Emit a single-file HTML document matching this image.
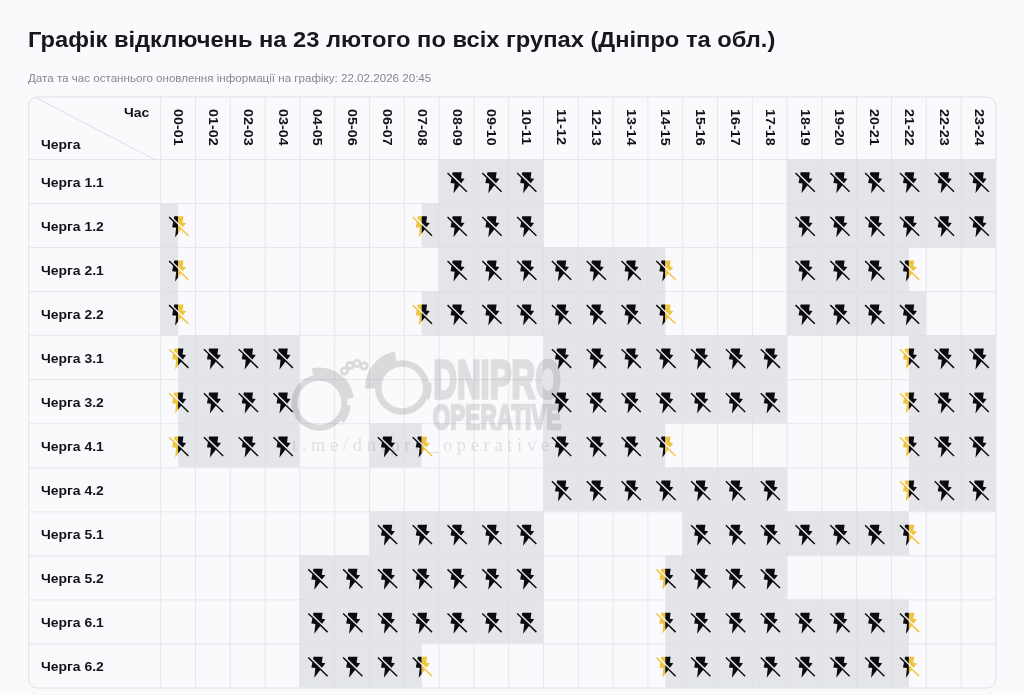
<!DOCTYPE html>
<html lang="uk"><head><meta charset="utf-8"><title>Графік відключень</title>
<style>
html,body{margin:0;padding:0}
body{width:1024px;height:695px;overflow:hidden;background:#fafafc;font-family:"Liberation Sans",sans-serif;color:#111318;position:relative}
h1{position:absolute;left:28.1px;top:26.1px;margin:0;font-size:21.6px;line-height:28px;font-weight:700;white-space:nowrap;color:#16181d;transform:scaleX(1.0972);transform-origin:0 0}
.sub{position:absolute;left:28px;top:71px;font-size:11.6px;line-height:14px;color:#85888f;white-space:nowrap}
.ov{position:absolute;left:0;top:0;width:1024px;height:695px;pointer-events:none}
.t{position:absolute;font-weight:700;white-space:nowrap}
.rl,.ch{font-size:13.5px;transform:scaleX(1.032);transform-origin:0 50%;line-height:16px}
.rl{left:41.2px}
.hd{font-size:13.6px;transform:scaleY(1.052);transform-origin:50% 50%;writing-mode:vertical-rl;line-height:34.80px;width:34.80px;height:61px;text-align:center;top:97px}
</style></head><body>
<h1>Графік відключень на 23 лютого по всіх групах (Дніпро та обл.)</h1>
<div class="sub">Дата та час останнього оновлення інформації на графіку: 22.02.2026 20:45</div>
<svg class="ov" width="1024" height="695" viewBox="0 0 1024 695">
<rect x="28.75" y="97.0" width="967.15" height="590.98" rx="8.5" fill="#fafafc"/>
<path d="M160.70,97.0V687.98M195.50,97.0V687.98M230.30,97.0V687.98M265.10,97.0V687.98M299.90,97.0V687.98M334.70,97.0V687.98M369.50,97.0V687.98M404.30,97.0V687.98M439.10,97.0V687.98M473.90,97.0V687.98M508.70,97.0V687.98M543.50,97.0V687.98M578.30,97.0V687.98M613.10,97.0V687.98M647.90,97.0V687.98M682.70,97.0V687.98M717.50,97.0V687.98M752.30,97.0V687.98M787.10,97.0V687.98M821.90,97.0V687.98M856.70,97.0V687.98M891.50,97.0V687.98M926.30,97.0V687.98M961.10,97.0V687.98M28.75,159.50H995.90M28.75,203.54H995.90M28.75,247.58H995.90M28.75,291.62H995.90M28.75,335.66H995.90M28.75,379.70H995.90M28.75,423.74H995.90M28.75,467.78H995.90M28.75,511.82H995.90M28.75,555.86H995.90M28.75,599.90H995.90M28.75,643.94H995.90" stroke="#e6e7eb" stroke-width="1" fill="none"/>
<path d="M35.5,97.5L155.5,160" stroke="#dcdfe3" stroke-width="1" fill="none"/>
<path d="M438.60,159.00H473.45V203.09H438.60zM473.40,159.00H508.25V203.09H473.40zM508.20,159.00H543.05V203.09H508.20zM786.60,159.00H821.45V203.09H786.60zM821.40,159.00H856.25V203.09H821.40zM856.20,159.00H891.05V203.09H856.20zM891.00,159.00H925.85V203.09H891.00zM925.80,159.00H960.65V203.09H925.80zM960.60,159.00H995.45V203.09H960.60zM160.20,203.04H178.15V247.13H160.20zM421.70,203.04H438.65V247.13H421.70zM438.60,203.04H473.45V247.13H438.60zM473.40,203.04H508.25V247.13H473.40zM508.20,203.04H543.05V247.13H508.20zM786.60,203.04H821.45V247.13H786.60zM821.40,203.04H856.25V247.13H821.40zM856.20,203.04H891.05V247.13H856.20zM891.00,203.04H925.85V247.13H891.00zM925.80,203.04H960.65V247.13H925.80zM960.60,203.04H995.45V247.13H960.60zM160.20,247.08H178.15V291.17H160.20zM438.60,247.08H473.45V291.17H438.60zM473.40,247.08H508.25V291.17H473.40zM508.20,247.08H543.05V291.17H508.20zM543.00,247.08H577.85V291.17H543.00zM577.80,247.08H612.65V291.17H577.80zM612.60,247.08H647.45V291.17H612.60zM647.40,247.08H665.35V291.17H647.40zM786.60,247.08H821.45V291.17H786.60zM821.40,247.08H856.25V291.17H821.40zM856.20,247.08H891.05V291.17H856.20zM891.00,247.08H908.95V291.17H891.00zM160.20,291.12H178.15V335.21H160.20zM421.70,291.12H438.65V335.21H421.70zM438.60,291.12H473.45V335.21H438.60zM473.40,291.12H508.25V335.21H473.40zM508.20,291.12H543.05V335.21H508.20zM543.00,291.12H577.85V335.21H543.00zM577.80,291.12H612.65V335.21H577.80zM612.60,291.12H647.45V335.21H612.60zM647.40,291.12H665.35V335.21H647.40zM786.60,291.12H821.45V335.21H786.60zM821.40,291.12H856.25V335.21H821.40zM856.20,291.12H891.05V335.21H856.20zM891.00,291.12H925.85V335.21H891.00zM178.10,335.16H195.05V379.25H178.10zM195.00,335.16H229.85V379.25H195.00zM229.80,335.16H264.65V379.25H229.80zM264.60,335.16H299.45V379.25H264.60zM543.00,335.16H577.85V379.25H543.00zM577.80,335.16H612.65V379.25H577.80zM612.60,335.16H647.45V379.25H612.60zM647.40,335.16H682.25V379.25H647.40zM682.20,335.16H717.05V379.25H682.20zM717.00,335.16H751.85V379.25H717.00zM751.80,335.16H786.65V379.25H751.80zM908.90,335.16H925.85V379.25H908.90zM925.80,335.16H960.65V379.25H925.80zM960.60,335.16H995.45V379.25H960.60zM178.10,379.20H195.05V423.29H178.10zM195.00,379.20H229.85V423.29H195.00zM229.80,379.20H264.65V423.29H229.80zM264.60,379.20H299.45V423.29H264.60zM543.00,379.20H577.85V423.29H543.00zM577.80,379.20H612.65V423.29H577.80zM612.60,379.20H647.45V423.29H612.60zM647.40,379.20H682.25V423.29H647.40zM682.20,379.20H717.05V423.29H682.20zM717.00,379.20H751.85V423.29H717.00zM751.80,379.20H786.65V423.29H751.80zM908.90,379.20H925.85V423.29H908.90zM925.80,379.20H960.65V423.29H925.80zM960.60,379.20H995.45V423.29H960.60zM178.10,423.24H195.05V467.33H178.10zM195.00,423.24H229.85V467.33H195.00zM229.80,423.24H264.65V467.33H229.80zM264.60,423.24H299.45V467.33H264.60zM369.00,423.24H403.85V467.33H369.00zM403.80,423.24H421.75V467.33H403.80zM543.00,423.24H577.85V467.33H543.00zM577.80,423.24H612.65V467.33H577.80zM612.60,423.24H647.45V467.33H612.60zM647.40,423.24H665.35V467.33H647.40zM908.90,423.24H925.85V467.33H908.90zM925.80,423.24H960.65V467.33H925.80zM960.60,423.24H995.45V467.33H960.60zM543.00,467.28H577.85V511.37H543.00zM577.80,467.28H612.65V511.37H577.80zM612.60,467.28H647.45V511.37H612.60zM647.40,467.28H682.25V511.37H647.40zM682.20,467.28H717.05V511.37H682.20zM717.00,467.28H751.85V511.37H717.00zM751.80,467.28H786.65V511.37H751.80zM908.90,467.28H925.85V511.37H908.90zM925.80,467.28H960.65V511.37H925.80zM960.60,467.28H995.45V511.37H960.60zM369.00,511.32H403.85V555.41H369.00zM403.80,511.32H438.65V555.41H403.80zM438.60,511.32H473.45V555.41H438.60zM473.40,511.32H508.25V555.41H473.40zM508.20,511.32H543.05V555.41H508.20zM682.20,511.32H717.05V555.41H682.20zM717.00,511.32H751.85V555.41H717.00zM751.80,511.32H786.65V555.41H751.80zM786.60,511.32H821.45V555.41H786.60zM821.40,511.32H856.25V555.41H821.40zM856.20,511.32H891.05V555.41H856.20zM891.00,511.32H908.95V555.41H891.00zM299.40,555.36H334.25V599.45H299.40zM334.20,555.36H369.05V599.45H334.20zM369.00,555.36H403.85V599.45H369.00zM403.80,555.36H438.65V599.45H403.80zM438.60,555.36H473.45V599.45H438.60zM473.40,555.36H508.25V599.45H473.40zM508.20,555.36H543.05V599.45H508.20zM665.30,555.36H682.25V599.45H665.30zM682.20,555.36H717.05V599.45H682.20zM717.00,555.36H751.85V599.45H717.00zM751.80,555.36H786.65V599.45H751.80zM299.40,599.40H334.25V643.49H299.40zM334.20,599.40H369.05V643.49H334.20zM369.00,599.40H403.85V643.49H369.00zM403.80,599.40H438.65V643.49H403.80zM438.60,599.40H473.45V643.49H438.60zM473.40,599.40H508.25V643.49H473.40zM508.20,599.40H543.05V643.49H508.20zM665.30,599.40H682.25V643.49H665.30zM682.20,599.40H717.05V643.49H682.20zM717.00,599.40H751.85V643.49H717.00zM751.80,599.40H786.65V643.49H751.80zM786.60,599.40H821.45V643.49H786.60zM821.40,599.40H856.25V643.49H821.40zM856.20,599.40H891.05V643.49H856.20zM891.00,599.40H908.95V643.49H891.00zM299.40,643.44H334.25V687.53H299.40zM334.20,643.44H369.05V687.53H334.20zM369.00,643.44H403.85V687.53H369.00zM403.80,643.44H421.75V687.53H403.80zM665.30,643.44H682.25V687.53H665.30zM682.20,643.44H717.05V687.53H682.20zM717.00,643.44H751.85V687.53H717.00zM751.80,643.44H786.65V687.53H751.80zM786.60,643.44H821.45V687.53H786.60zM821.40,643.44H856.25V687.53H821.40zM856.20,643.44H891.05V687.53H856.20zM891.00,643.44H908.95V687.53H891.00z" fill="#e4e5e9"/>
<path d="M473.90,159.50V203.54M508.70,159.50V203.54M821.90,159.50V203.54M856.70,159.50V203.54M891.50,159.50V203.54M926.30,159.50V203.54M961.10,159.50V203.54M439.10,203.54V247.58M439.10,203.54H473.90M473.90,203.54V247.58M473.90,203.54H508.70M508.70,203.54V247.58M508.70,203.54H543.50M787.10,203.54H821.90M821.90,203.54V247.58M821.90,203.54H856.70M856.70,203.54V247.58M856.70,203.54H891.50M891.50,203.54V247.58M891.50,203.54H926.30M926.30,203.54V247.58M926.30,203.54H961.10M961.10,203.54V247.58M961.10,203.54H995.90M160.70,247.58H178.10M439.10,247.58H473.90M473.90,247.58V291.62M473.90,247.58H508.70M508.70,247.58V291.62M508.70,247.58H543.50M543.50,247.58V291.62M578.30,247.58V291.62M613.10,247.58V291.62M647.90,247.58V291.62M787.10,247.58H821.90M821.90,247.58V291.62M821.90,247.58H856.70M856.70,247.58V291.62M856.70,247.58H891.50M891.50,247.58V291.62M891.50,247.58H908.90M160.70,291.62H178.10M439.10,291.62V335.66M439.10,291.62H473.90M473.90,291.62V335.66M473.90,291.62H508.70M508.70,291.62V335.66M508.70,291.62H543.50M543.50,291.62V335.66M543.50,291.62H578.30M578.30,291.62V335.66M578.30,291.62H613.10M613.10,291.62V335.66M613.10,291.62H647.90M647.90,291.62V335.66M647.90,291.62H665.30M787.10,291.62H821.90M821.90,291.62V335.66M821.90,291.62H856.70M856.70,291.62V335.66M856.70,291.62H891.50M891.50,291.62V335.66M891.50,291.62H908.90M195.50,335.66V379.70M230.30,335.66V379.70M265.10,335.66V379.70M543.50,335.66H578.30M578.30,335.66V379.70M578.30,335.66H613.10M613.10,335.66V379.70M613.10,335.66H647.90M647.90,335.66V379.70M647.90,335.66H665.30M682.70,335.66V379.70M717.50,335.66V379.70M752.30,335.66V379.70M908.90,335.66H926.30M926.30,335.66V379.70M961.10,335.66V379.70M178.10,379.70H195.50M195.50,379.70V423.74M195.50,379.70H230.30M230.30,379.70V423.74M230.30,379.70H265.10M265.10,379.70V423.74M265.10,379.70H299.90M543.50,379.70H578.30M578.30,379.70V423.74M578.30,379.70H613.10M613.10,379.70V423.74M613.10,379.70H647.90M647.90,379.70V423.74M647.90,379.70H682.70M682.70,379.70V423.74M682.70,379.70H717.50M717.50,379.70V423.74M717.50,379.70H752.30M752.30,379.70V423.74M752.30,379.70H787.10M908.90,379.70H926.30M926.30,379.70V423.74M926.30,379.70H961.10M961.10,379.70V423.74M961.10,379.70H995.90M178.10,423.74H195.50M195.50,423.74V467.78M195.50,423.74H230.30M230.30,423.74V467.78M230.30,423.74H265.10M265.10,423.74V467.78M265.10,423.74H299.90M404.30,423.74V467.78M543.50,423.74H578.30M578.30,423.74V467.78M578.30,423.74H613.10M613.10,423.74V467.78M613.10,423.74H647.90M647.90,423.74V467.78M647.90,423.74H665.30M908.90,423.74H926.30M926.30,423.74V467.78M926.30,423.74H961.10M961.10,423.74V467.78M961.10,423.74H995.90M543.50,467.78H578.30M578.30,467.78V511.82M578.30,467.78H613.10M613.10,467.78V511.82M613.10,467.78H647.90M647.90,467.78V511.82M647.90,467.78H665.30M682.70,467.78V511.82M717.50,467.78V511.82M752.30,467.78V511.82M908.90,467.78H926.30M926.30,467.78V511.82M926.30,467.78H961.10M961.10,467.78V511.82M961.10,467.78H995.90M404.30,511.82V555.86M439.10,511.82V555.86M473.90,511.82V555.86M508.70,511.82V555.86M682.70,511.82H717.50M717.50,511.82V555.86M717.50,511.82H752.30M752.30,511.82V555.86M752.30,511.82H787.10M787.10,511.82V555.86M821.90,511.82V555.86M856.70,511.82V555.86M891.50,511.82V555.86M334.70,555.86V599.90M369.50,555.86V599.90M369.50,555.86H404.30M404.30,555.86V599.90M404.30,555.86H439.10M439.10,555.86V599.90M439.10,555.86H473.90M473.90,555.86V599.90M473.90,555.86H508.70M508.70,555.86V599.90M508.70,555.86H543.50M682.70,555.86V599.90M682.70,555.86H717.50M717.50,555.86V599.90M717.50,555.86H752.30M752.30,555.86V599.90M752.30,555.86H787.10M299.90,599.90H334.70M334.70,599.90V643.94M334.70,599.90H369.50M369.50,599.90V643.94M369.50,599.90H404.30M404.30,599.90V643.94M404.30,599.90H439.10M439.10,599.90V643.94M439.10,599.90H473.90M473.90,599.90V643.94M473.90,599.90H508.70M508.70,599.90V643.94M508.70,599.90H543.50M665.30,599.90H682.70M682.70,599.90V643.94M682.70,599.90H717.50M717.50,599.90V643.94M717.50,599.90H752.30M752.30,599.90V643.94M752.30,599.90H787.10M787.10,599.90V643.94M821.90,599.90V643.94M856.70,599.90V643.94M891.50,599.90V643.94M299.90,643.94H334.70M334.70,643.94V687.98M334.70,643.94H369.50M369.50,643.94V687.98M369.50,643.94H404.30M404.30,643.94V687.98M404.30,643.94H421.70M665.30,643.94H682.70M682.70,643.94V687.98M682.70,643.94H717.50M717.50,643.94V687.98M717.50,643.94H752.30M752.30,643.94V687.98M752.30,643.94H787.10M787.10,643.94V687.98M787.10,643.94H821.90M821.90,643.94V687.98M821.90,643.94H856.70M856.70,643.94V687.98M856.70,643.94H891.50M891.50,643.94V687.98M891.50,643.94H908.90" stroke="#dfe0e5" stroke-width="1" fill="none"/>
<rect x="28.75" y="97.0" width="967.15" height="590.98" rx="8.5" fill="none" stroke="#dee0e4" stroke-width="1"/>
<g fill="#0b0b0d"><path transform="translate(456.60 181.52)" d="M4.59,1.74 7.97,-2.65 4.38,-3.17 5.23,-9.20 -3.97,-9.20 -4.39,-6.97zM3.23,2.44 -4.72,-5.27 -4.72,-5.27 -8.60,-9.02 -9.60,-7.98 -5.05,-3.57 -6.04,1.57 -2.02,2.07 -3.13,11.79 2.82,4.05 9.70,10.72 10.70,9.68z"/>
<path transform="translate(491.40 181.52)" d="M4.59,1.74 7.97,-2.65 4.38,-3.17 5.23,-9.20 -3.97,-9.20 -4.39,-6.97zM3.23,2.44 -4.72,-5.27 -4.72,-5.27 -8.60,-9.02 -9.60,-7.98 -5.05,-3.57 -6.04,1.57 -2.02,2.07 -3.13,11.79 2.82,4.05 9.70,10.72 10.70,9.68z"/>
<path transform="translate(526.20 181.52)" d="M4.59,1.74 7.97,-2.65 4.38,-3.17 5.23,-9.20 -3.97,-9.20 -4.39,-6.97zM3.23,2.44 -4.72,-5.27 -4.72,-5.27 -8.60,-9.02 -9.60,-7.98 -5.05,-3.57 -6.04,1.57 -2.02,2.07 -3.13,11.79 2.82,4.05 9.70,10.72 10.70,9.68z"/>
<path transform="translate(804.60 181.52)" d="M4.59,1.74 7.97,-2.65 4.38,-3.17 5.23,-9.20 -3.97,-9.20 -4.39,-6.97zM3.23,2.44 -4.72,-5.27 -4.72,-5.27 -8.60,-9.02 -9.60,-7.98 -5.05,-3.57 -6.04,1.57 -2.02,2.07 -3.13,11.79 2.82,4.05 9.70,10.72 10.70,9.68z"/>
<path transform="translate(839.40 181.52)" d="M4.59,1.74 7.97,-2.65 4.38,-3.17 5.23,-9.20 -3.97,-9.20 -4.39,-6.97zM3.23,2.44 -4.72,-5.27 -4.72,-5.27 -8.60,-9.02 -9.60,-7.98 -5.05,-3.57 -6.04,1.57 -2.02,2.07 -3.13,11.79 2.82,4.05 9.70,10.72 10.70,9.68z"/>
<path transform="translate(874.20 181.52)" d="M4.59,1.74 7.97,-2.65 4.38,-3.17 5.23,-9.20 -3.97,-9.20 -4.39,-6.97zM3.23,2.44 -4.72,-5.27 -4.72,-5.27 -8.60,-9.02 -9.60,-7.98 -5.05,-3.57 -6.04,1.57 -2.02,2.07 -3.13,11.79 2.82,4.05 9.70,10.72 10.70,9.68z"/>
<path transform="translate(909.00 181.52)" d="M4.59,1.74 7.97,-2.65 4.38,-3.17 5.23,-9.20 -3.97,-9.20 -4.39,-6.97zM3.23,2.44 -4.72,-5.27 -4.72,-5.27 -8.60,-9.02 -9.60,-7.98 -5.05,-3.57 -6.04,1.57 -2.02,2.07 -3.13,11.79 2.82,4.05 9.70,10.72 10.70,9.68z"/>
<path transform="translate(943.80 181.52)" d="M4.59,1.74 7.97,-2.65 4.38,-3.17 5.23,-9.20 -3.97,-9.20 -4.39,-6.97zM3.23,2.44 -4.72,-5.27 -4.72,-5.27 -8.60,-9.02 -9.60,-7.98 -5.05,-3.57 -6.04,1.57 -2.02,2.07 -3.13,11.79 2.82,4.05 9.70,10.72 10.70,9.68z"/>
<path transform="translate(978.60 181.52)" d="M4.59,1.74 7.97,-2.65 4.38,-3.17 5.23,-9.20 -3.97,-9.20 -4.39,-6.97zM3.23,2.44 -4.72,-5.27 -4.72,-5.27 -8.60,-9.02 -9.60,-7.98 -5.05,-3.57 -6.04,1.57 -2.02,2.07 -3.13,11.79 2.82,4.05 9.70,10.72 10.70,9.68z"/>
<path transform="translate(178.20 225.56)" d="M-3.97,-9.20 -4.39,-6.97 -0.10,-2.81 -0.10,-9.20zM-4.72,-5.27 -4.72,-5.27 -8.60,-9.02 -9.60,-7.98 -5.05,-3.57 -6.04,1.57 -2.02,2.07 -3.13,11.79 -0.10,7.85 -0.10,-0.79z"/><path transform="translate(178.20 225.56)" fill="#f0c53e" d="M7.97,-2.65 4.38,-3.17 5.23,-9.20 -0.10,-9.20 -0.10,-2.81 4.59,1.74zM-0.10,-0.79 -0.10,7.85 2.82,4.05 9.70,10.72 10.70,9.68 3.23,2.44z"/>
<path transform="translate(421.80 225.56)" fill="#f0c53e" d="M-3.97,-9.20 -4.39,-6.97 -0.10,-2.81 -0.10,-9.20zM-4.72,-5.27 -4.72,-5.27 -8.60,-9.02 -9.60,-7.98 -5.05,-3.57 -6.04,1.57 -2.02,2.07 -3.13,11.79 -0.10,7.85 -0.10,-0.79z"/><path transform="translate(421.80 225.56)" d="M7.97,-2.65 4.38,-3.17 5.23,-9.20 -0.10,-9.20 -0.10,-2.81 4.59,1.74zM-0.10,-0.79 -0.10,7.85 2.82,4.05 9.70,10.72 10.70,9.68 3.23,2.44z"/>
<path transform="translate(456.60 225.56)" d="M4.59,1.74 7.97,-2.65 4.38,-3.17 5.23,-9.20 -3.97,-9.20 -4.39,-6.97zM3.23,2.44 -4.72,-5.27 -4.72,-5.27 -8.60,-9.02 -9.60,-7.98 -5.05,-3.57 -6.04,1.57 -2.02,2.07 -3.13,11.79 2.82,4.05 9.70,10.72 10.70,9.68z"/>
<path transform="translate(491.40 225.56)" d="M4.59,1.74 7.97,-2.65 4.38,-3.17 5.23,-9.20 -3.97,-9.20 -4.39,-6.97zM3.23,2.44 -4.72,-5.27 -4.72,-5.27 -8.60,-9.02 -9.60,-7.98 -5.05,-3.57 -6.04,1.57 -2.02,2.07 -3.13,11.79 2.82,4.05 9.70,10.72 10.70,9.68z"/>
<path transform="translate(526.20 225.56)" d="M4.59,1.74 7.97,-2.65 4.38,-3.17 5.23,-9.20 -3.97,-9.20 -4.39,-6.97zM3.23,2.44 -4.72,-5.27 -4.72,-5.27 -8.60,-9.02 -9.60,-7.98 -5.05,-3.57 -6.04,1.57 -2.02,2.07 -3.13,11.79 2.82,4.05 9.70,10.72 10.70,9.68z"/>
<path transform="translate(804.60 225.56)" d="M4.59,1.74 7.97,-2.65 4.38,-3.17 5.23,-9.20 -3.97,-9.20 -4.39,-6.97zM3.23,2.44 -4.72,-5.27 -4.72,-5.27 -8.60,-9.02 -9.60,-7.98 -5.05,-3.57 -6.04,1.57 -2.02,2.07 -3.13,11.79 2.82,4.05 9.70,10.72 10.70,9.68z"/>
<path transform="translate(839.40 225.56)" d="M4.59,1.74 7.97,-2.65 4.38,-3.17 5.23,-9.20 -3.97,-9.20 -4.39,-6.97zM3.23,2.44 -4.72,-5.27 -4.72,-5.27 -8.60,-9.02 -9.60,-7.98 -5.05,-3.57 -6.04,1.57 -2.02,2.07 -3.13,11.79 2.82,4.05 9.70,10.72 10.70,9.68z"/>
<path transform="translate(874.20 225.56)" d="M4.59,1.74 7.97,-2.65 4.38,-3.17 5.23,-9.20 -3.97,-9.20 -4.39,-6.97zM3.23,2.44 -4.72,-5.27 -4.72,-5.27 -8.60,-9.02 -9.60,-7.98 -5.05,-3.57 -6.04,1.57 -2.02,2.07 -3.13,11.79 2.82,4.05 9.70,10.72 10.70,9.68z"/>
<path transform="translate(909.00 225.56)" d="M4.59,1.74 7.97,-2.65 4.38,-3.17 5.23,-9.20 -3.97,-9.20 -4.39,-6.97zM3.23,2.44 -4.72,-5.27 -4.72,-5.27 -8.60,-9.02 -9.60,-7.98 -5.05,-3.57 -6.04,1.57 -2.02,2.07 -3.13,11.79 2.82,4.05 9.70,10.72 10.70,9.68z"/>
<path transform="translate(943.80 225.56)" d="M4.59,1.74 7.97,-2.65 4.38,-3.17 5.23,-9.20 -3.97,-9.20 -4.39,-6.97zM3.23,2.44 -4.72,-5.27 -4.72,-5.27 -8.60,-9.02 -9.60,-7.98 -5.05,-3.57 -6.04,1.57 -2.02,2.07 -3.13,11.79 2.82,4.05 9.70,10.72 10.70,9.68z"/>
<path transform="translate(978.60 225.56)" d="M4.59,1.74 7.97,-2.65 4.38,-3.17 5.23,-9.20 -3.97,-9.20 -4.39,-6.97zM3.23,2.44 -4.72,-5.27 -4.72,-5.27 -8.60,-9.02 -9.60,-7.98 -5.05,-3.57 -6.04,1.57 -2.02,2.07 -3.13,11.79 2.82,4.05 9.70,10.72 10.70,9.68z"/>
<path transform="translate(178.20 269.60)" d="M-3.97,-9.20 -4.39,-6.97 -0.10,-2.81 -0.10,-9.20zM-4.72,-5.27 -4.72,-5.27 -8.60,-9.02 -9.60,-7.98 -5.05,-3.57 -6.04,1.57 -2.02,2.07 -3.13,11.79 -0.10,7.85 -0.10,-0.79z"/><path transform="translate(178.20 269.60)" fill="#f0c53e" d="M7.97,-2.65 4.38,-3.17 5.23,-9.20 -0.10,-9.20 -0.10,-2.81 4.59,1.74zM-0.10,-0.79 -0.10,7.85 2.82,4.05 9.70,10.72 10.70,9.68 3.23,2.44z"/>
<path transform="translate(456.60 269.60)" d="M4.59,1.74 7.97,-2.65 4.38,-3.17 5.23,-9.20 -3.97,-9.20 -4.39,-6.97zM3.23,2.44 -4.72,-5.27 -4.72,-5.27 -8.60,-9.02 -9.60,-7.98 -5.05,-3.57 -6.04,1.57 -2.02,2.07 -3.13,11.79 2.82,4.05 9.70,10.72 10.70,9.68z"/>
<path transform="translate(491.40 269.60)" d="M4.59,1.74 7.97,-2.65 4.38,-3.17 5.23,-9.20 -3.97,-9.20 -4.39,-6.97zM3.23,2.44 -4.72,-5.27 -4.72,-5.27 -8.60,-9.02 -9.60,-7.98 -5.05,-3.57 -6.04,1.57 -2.02,2.07 -3.13,11.79 2.82,4.05 9.70,10.72 10.70,9.68z"/>
<path transform="translate(526.20 269.60)" d="M4.59,1.74 7.97,-2.65 4.38,-3.17 5.23,-9.20 -3.97,-9.20 -4.39,-6.97zM3.23,2.44 -4.72,-5.27 -4.72,-5.27 -8.60,-9.02 -9.60,-7.98 -5.05,-3.57 -6.04,1.57 -2.02,2.07 -3.13,11.79 2.82,4.05 9.70,10.72 10.70,9.68z"/>
<path transform="translate(561.00 269.60)" d="M4.59,1.74 7.97,-2.65 4.38,-3.17 5.23,-9.20 -3.97,-9.20 -4.39,-6.97zM3.23,2.44 -4.72,-5.27 -4.72,-5.27 -8.60,-9.02 -9.60,-7.98 -5.05,-3.57 -6.04,1.57 -2.02,2.07 -3.13,11.79 2.82,4.05 9.70,10.72 10.70,9.68z"/>
<path transform="translate(595.80 269.60)" d="M4.59,1.74 7.97,-2.65 4.38,-3.17 5.23,-9.20 -3.97,-9.20 -4.39,-6.97zM3.23,2.44 -4.72,-5.27 -4.72,-5.27 -8.60,-9.02 -9.60,-7.98 -5.05,-3.57 -6.04,1.57 -2.02,2.07 -3.13,11.79 2.82,4.05 9.70,10.72 10.70,9.68z"/>
<path transform="translate(630.60 269.60)" d="M4.59,1.74 7.97,-2.65 4.38,-3.17 5.23,-9.20 -3.97,-9.20 -4.39,-6.97zM3.23,2.44 -4.72,-5.27 -4.72,-5.27 -8.60,-9.02 -9.60,-7.98 -5.05,-3.57 -6.04,1.57 -2.02,2.07 -3.13,11.79 2.82,4.05 9.70,10.72 10.70,9.68z"/>
<path transform="translate(665.40 269.60)" d="M-3.97,-9.20 -4.39,-6.97 -0.10,-2.81 -0.10,-9.20zM-4.72,-5.27 -4.72,-5.27 -8.60,-9.02 -9.60,-7.98 -5.05,-3.57 -6.04,1.57 -2.02,2.07 -3.13,11.79 -0.10,7.85 -0.10,-0.79z"/><path transform="translate(665.40 269.60)" fill="#f0c53e" d="M7.97,-2.65 4.38,-3.17 5.23,-9.20 -0.10,-9.20 -0.10,-2.81 4.59,1.74zM-0.10,-0.79 -0.10,7.85 2.82,4.05 9.70,10.72 10.70,9.68 3.23,2.44z"/>
<path transform="translate(804.60 269.60)" d="M4.59,1.74 7.97,-2.65 4.38,-3.17 5.23,-9.20 -3.97,-9.20 -4.39,-6.97zM3.23,2.44 -4.72,-5.27 -4.72,-5.27 -8.60,-9.02 -9.60,-7.98 -5.05,-3.57 -6.04,1.57 -2.02,2.07 -3.13,11.79 2.82,4.05 9.70,10.72 10.70,9.68z"/>
<path transform="translate(839.40 269.60)" d="M4.59,1.74 7.97,-2.65 4.38,-3.17 5.23,-9.20 -3.97,-9.20 -4.39,-6.97zM3.23,2.44 -4.72,-5.27 -4.72,-5.27 -8.60,-9.02 -9.60,-7.98 -5.05,-3.57 -6.04,1.57 -2.02,2.07 -3.13,11.79 2.82,4.05 9.70,10.72 10.70,9.68z"/>
<path transform="translate(874.20 269.60)" d="M4.59,1.74 7.97,-2.65 4.38,-3.17 5.23,-9.20 -3.97,-9.20 -4.39,-6.97zM3.23,2.44 -4.72,-5.27 -4.72,-5.27 -8.60,-9.02 -9.60,-7.98 -5.05,-3.57 -6.04,1.57 -2.02,2.07 -3.13,11.79 2.82,4.05 9.70,10.72 10.70,9.68z"/>
<path transform="translate(909.00 269.60)" d="M-3.97,-9.20 -4.39,-6.97 -0.10,-2.81 -0.10,-9.20zM-4.72,-5.27 -4.72,-5.27 -8.60,-9.02 -9.60,-7.98 -5.05,-3.57 -6.04,1.57 -2.02,2.07 -3.13,11.79 -0.10,7.85 -0.10,-0.79z"/><path transform="translate(909.00 269.60)" fill="#f0c53e" d="M7.97,-2.65 4.38,-3.17 5.23,-9.20 -0.10,-9.20 -0.10,-2.81 4.59,1.74zM-0.10,-0.79 -0.10,7.85 2.82,4.05 9.70,10.72 10.70,9.68 3.23,2.44z"/>
<path transform="translate(178.20 313.64)" d="M-3.97,-9.20 -4.39,-6.97 -0.10,-2.81 -0.10,-9.20zM-4.72,-5.27 -4.72,-5.27 -8.60,-9.02 -9.60,-7.98 -5.05,-3.57 -6.04,1.57 -2.02,2.07 -3.13,11.79 -0.10,7.85 -0.10,-0.79z"/><path transform="translate(178.20 313.64)" fill="#f0c53e" d="M7.97,-2.65 4.38,-3.17 5.23,-9.20 -0.10,-9.20 -0.10,-2.81 4.59,1.74zM-0.10,-0.79 -0.10,7.85 2.82,4.05 9.70,10.72 10.70,9.68 3.23,2.44z"/>
<path transform="translate(421.80 313.64)" fill="#f0c53e" d="M-3.97,-9.20 -4.39,-6.97 -0.10,-2.81 -0.10,-9.20zM-4.72,-5.27 -4.72,-5.27 -8.60,-9.02 -9.60,-7.98 -5.05,-3.57 -6.04,1.57 -2.02,2.07 -3.13,11.79 -0.10,7.85 -0.10,-0.79z"/><path transform="translate(421.80 313.64)" d="M7.97,-2.65 4.38,-3.17 5.23,-9.20 -0.10,-9.20 -0.10,-2.81 4.59,1.74zM-0.10,-0.79 -0.10,7.85 2.82,4.05 9.70,10.72 10.70,9.68 3.23,2.44z"/>
<path transform="translate(456.60 313.64)" d="M4.59,1.74 7.97,-2.65 4.38,-3.17 5.23,-9.20 -3.97,-9.20 -4.39,-6.97zM3.23,2.44 -4.72,-5.27 -4.72,-5.27 -8.60,-9.02 -9.60,-7.98 -5.05,-3.57 -6.04,1.57 -2.02,2.07 -3.13,11.79 2.82,4.05 9.70,10.72 10.70,9.68z"/>
<path transform="translate(491.40 313.64)" d="M4.59,1.74 7.97,-2.65 4.38,-3.17 5.23,-9.20 -3.97,-9.20 -4.39,-6.97zM3.23,2.44 -4.72,-5.27 -4.72,-5.27 -8.60,-9.02 -9.60,-7.98 -5.05,-3.57 -6.04,1.57 -2.02,2.07 -3.13,11.79 2.82,4.05 9.70,10.72 10.70,9.68z"/>
<path transform="translate(526.20 313.64)" d="M4.59,1.74 7.97,-2.65 4.38,-3.17 5.23,-9.20 -3.97,-9.20 -4.39,-6.97zM3.23,2.44 -4.72,-5.27 -4.72,-5.27 -8.60,-9.02 -9.60,-7.98 -5.05,-3.57 -6.04,1.57 -2.02,2.07 -3.13,11.79 2.82,4.05 9.70,10.72 10.70,9.68z"/>
<path transform="translate(561.00 313.64)" d="M4.59,1.74 7.97,-2.65 4.38,-3.17 5.23,-9.20 -3.97,-9.20 -4.39,-6.97zM3.23,2.44 -4.72,-5.27 -4.72,-5.27 -8.60,-9.02 -9.60,-7.98 -5.05,-3.57 -6.04,1.57 -2.02,2.07 -3.13,11.79 2.82,4.05 9.70,10.72 10.70,9.68z"/>
<path transform="translate(595.80 313.64)" d="M4.59,1.74 7.97,-2.65 4.38,-3.17 5.23,-9.20 -3.97,-9.20 -4.39,-6.97zM3.23,2.44 -4.72,-5.27 -4.72,-5.27 -8.60,-9.02 -9.60,-7.98 -5.05,-3.57 -6.04,1.57 -2.02,2.07 -3.13,11.79 2.82,4.05 9.70,10.72 10.70,9.68z"/>
<path transform="translate(630.60 313.64)" d="M4.59,1.74 7.97,-2.65 4.38,-3.17 5.23,-9.20 -3.97,-9.20 -4.39,-6.97zM3.23,2.44 -4.72,-5.27 -4.72,-5.27 -8.60,-9.02 -9.60,-7.98 -5.05,-3.57 -6.04,1.57 -2.02,2.07 -3.13,11.79 2.82,4.05 9.70,10.72 10.70,9.68z"/>
<path transform="translate(665.40 313.64)" d="M-3.97,-9.20 -4.39,-6.97 -0.10,-2.81 -0.10,-9.20zM-4.72,-5.27 -4.72,-5.27 -8.60,-9.02 -9.60,-7.98 -5.05,-3.57 -6.04,1.57 -2.02,2.07 -3.13,11.79 -0.10,7.85 -0.10,-0.79z"/><path transform="translate(665.40 313.64)" fill="#f0c53e" d="M7.97,-2.65 4.38,-3.17 5.23,-9.20 -0.10,-9.20 -0.10,-2.81 4.59,1.74zM-0.10,-0.79 -0.10,7.85 2.82,4.05 9.70,10.72 10.70,9.68 3.23,2.44z"/>
<path transform="translate(804.60 313.64)" d="M4.59,1.74 7.97,-2.65 4.38,-3.17 5.23,-9.20 -3.97,-9.20 -4.39,-6.97zM3.23,2.44 -4.72,-5.27 -4.72,-5.27 -8.60,-9.02 -9.60,-7.98 -5.05,-3.57 -6.04,1.57 -2.02,2.07 -3.13,11.79 2.82,4.05 9.70,10.72 10.70,9.68z"/>
<path transform="translate(839.40 313.64)" d="M4.59,1.74 7.97,-2.65 4.38,-3.17 5.23,-9.20 -3.97,-9.20 -4.39,-6.97zM3.23,2.44 -4.72,-5.27 -4.72,-5.27 -8.60,-9.02 -9.60,-7.98 -5.05,-3.57 -6.04,1.57 -2.02,2.07 -3.13,11.79 2.82,4.05 9.70,10.72 10.70,9.68z"/>
<path transform="translate(874.20 313.64)" d="M4.59,1.74 7.97,-2.65 4.38,-3.17 5.23,-9.20 -3.97,-9.20 -4.39,-6.97zM3.23,2.44 -4.72,-5.27 -4.72,-5.27 -8.60,-9.02 -9.60,-7.98 -5.05,-3.57 -6.04,1.57 -2.02,2.07 -3.13,11.79 2.82,4.05 9.70,10.72 10.70,9.68z"/>
<path transform="translate(909.00 313.64)" d="M4.59,1.74 7.97,-2.65 4.38,-3.17 5.23,-9.20 -3.97,-9.20 -4.39,-6.97zM3.23,2.44 -4.72,-5.27 -4.72,-5.27 -8.60,-9.02 -9.60,-7.98 -5.05,-3.57 -6.04,1.57 -2.02,2.07 -3.13,11.79 2.82,4.05 9.70,10.72 10.70,9.68z"/>
<path transform="translate(178.20 357.68)" fill="#f0c53e" d="M-3.97,-9.20 -4.39,-6.97 -0.10,-2.81 -0.10,-9.20zM-4.72,-5.27 -4.72,-5.27 -8.60,-9.02 -9.60,-7.98 -5.05,-3.57 -6.04,1.57 -2.02,2.07 -3.13,11.79 -0.10,7.85 -0.10,-0.79z"/><path transform="translate(178.20 357.68)" d="M7.97,-2.65 4.38,-3.17 5.23,-9.20 -0.10,-9.20 -0.10,-2.81 4.59,1.74zM-0.10,-0.79 -0.10,7.85 2.82,4.05 9.70,10.72 10.70,9.68 3.23,2.44z"/>
<path transform="translate(213.00 357.68)" d="M4.59,1.74 7.97,-2.65 4.38,-3.17 5.23,-9.20 -3.97,-9.20 -4.39,-6.97zM3.23,2.44 -4.72,-5.27 -4.72,-5.27 -8.60,-9.02 -9.60,-7.98 -5.05,-3.57 -6.04,1.57 -2.02,2.07 -3.13,11.79 2.82,4.05 9.70,10.72 10.70,9.68z"/>
<path transform="translate(247.80 357.68)" d="M4.59,1.74 7.97,-2.65 4.38,-3.17 5.23,-9.20 -3.97,-9.20 -4.39,-6.97zM3.23,2.44 -4.72,-5.27 -4.72,-5.27 -8.60,-9.02 -9.60,-7.98 -5.05,-3.57 -6.04,1.57 -2.02,2.07 -3.13,11.79 2.82,4.05 9.70,10.72 10.70,9.68z"/>
<path transform="translate(282.60 357.68)" d="M4.59,1.74 7.97,-2.65 4.38,-3.17 5.23,-9.20 -3.97,-9.20 -4.39,-6.97zM3.23,2.44 -4.72,-5.27 -4.72,-5.27 -8.60,-9.02 -9.60,-7.98 -5.05,-3.57 -6.04,1.57 -2.02,2.07 -3.13,11.79 2.82,4.05 9.70,10.72 10.70,9.68z"/>
<path transform="translate(561.00 357.68)" d="M4.59,1.74 7.97,-2.65 4.38,-3.17 5.23,-9.20 -3.97,-9.20 -4.39,-6.97zM3.23,2.44 -4.72,-5.27 -4.72,-5.27 -8.60,-9.02 -9.60,-7.98 -5.05,-3.57 -6.04,1.57 -2.02,2.07 -3.13,11.79 2.82,4.05 9.70,10.72 10.70,9.68z"/>
<path transform="translate(595.80 357.68)" d="M4.59,1.74 7.97,-2.65 4.38,-3.17 5.23,-9.20 -3.97,-9.20 -4.39,-6.97zM3.23,2.44 -4.72,-5.27 -4.72,-5.27 -8.60,-9.02 -9.60,-7.98 -5.05,-3.57 -6.04,1.57 -2.02,2.07 -3.13,11.79 2.82,4.05 9.70,10.72 10.70,9.68z"/>
<path transform="translate(630.60 357.68)" d="M4.59,1.74 7.97,-2.65 4.38,-3.17 5.23,-9.20 -3.97,-9.20 -4.39,-6.97zM3.23,2.44 -4.72,-5.27 -4.72,-5.27 -8.60,-9.02 -9.60,-7.98 -5.05,-3.57 -6.04,1.57 -2.02,2.07 -3.13,11.79 2.82,4.05 9.70,10.72 10.70,9.68z"/>
<path transform="translate(665.40 357.68)" d="M4.59,1.74 7.97,-2.65 4.38,-3.17 5.23,-9.20 -3.97,-9.20 -4.39,-6.97zM3.23,2.44 -4.72,-5.27 -4.72,-5.27 -8.60,-9.02 -9.60,-7.98 -5.05,-3.57 -6.04,1.57 -2.02,2.07 -3.13,11.79 2.82,4.05 9.70,10.72 10.70,9.68z"/>
<path transform="translate(700.20 357.68)" d="M4.59,1.74 7.97,-2.65 4.38,-3.17 5.23,-9.20 -3.97,-9.20 -4.39,-6.97zM3.23,2.44 -4.72,-5.27 -4.72,-5.27 -8.60,-9.02 -9.60,-7.98 -5.05,-3.57 -6.04,1.57 -2.02,2.07 -3.13,11.79 2.82,4.05 9.70,10.72 10.70,9.68z"/>
<path transform="translate(735.00 357.68)" d="M4.59,1.74 7.97,-2.65 4.38,-3.17 5.23,-9.20 -3.97,-9.20 -4.39,-6.97zM3.23,2.44 -4.72,-5.27 -4.72,-5.27 -8.60,-9.02 -9.60,-7.98 -5.05,-3.57 -6.04,1.57 -2.02,2.07 -3.13,11.79 2.82,4.05 9.70,10.72 10.70,9.68z"/>
<path transform="translate(769.80 357.68)" d="M4.59,1.74 7.97,-2.65 4.38,-3.17 5.23,-9.20 -3.97,-9.20 -4.39,-6.97zM3.23,2.44 -4.72,-5.27 -4.72,-5.27 -8.60,-9.02 -9.60,-7.98 -5.05,-3.57 -6.04,1.57 -2.02,2.07 -3.13,11.79 2.82,4.05 9.70,10.72 10.70,9.68z"/>
<path transform="translate(909.00 357.68)" fill="#f0c53e" d="M-3.97,-9.20 -4.39,-6.97 -0.10,-2.81 -0.10,-9.20zM-4.72,-5.27 -4.72,-5.27 -8.60,-9.02 -9.60,-7.98 -5.05,-3.57 -6.04,1.57 -2.02,2.07 -3.13,11.79 -0.10,7.85 -0.10,-0.79z"/><path transform="translate(909.00 357.68)" d="M7.97,-2.65 4.38,-3.17 5.23,-9.20 -0.10,-9.20 -0.10,-2.81 4.59,1.74zM-0.10,-0.79 -0.10,7.85 2.82,4.05 9.70,10.72 10.70,9.68 3.23,2.44z"/>
<path transform="translate(943.80 357.68)" d="M4.59,1.74 7.97,-2.65 4.38,-3.17 5.23,-9.20 -3.97,-9.20 -4.39,-6.97zM3.23,2.44 -4.72,-5.27 -4.72,-5.27 -8.60,-9.02 -9.60,-7.98 -5.05,-3.57 -6.04,1.57 -2.02,2.07 -3.13,11.79 2.82,4.05 9.70,10.72 10.70,9.68z"/>
<path transform="translate(978.60 357.68)" d="M4.59,1.74 7.97,-2.65 4.38,-3.17 5.23,-9.20 -3.97,-9.20 -4.39,-6.97zM3.23,2.44 -4.72,-5.27 -4.72,-5.27 -8.60,-9.02 -9.60,-7.98 -5.05,-3.57 -6.04,1.57 -2.02,2.07 -3.13,11.79 2.82,4.05 9.70,10.72 10.70,9.68z"/>
<path transform="translate(178.20 401.72)" fill="#f0c53e" d="M-3.97,-9.20 -4.39,-6.97 -0.10,-2.81 -0.10,-9.20zM-4.72,-5.27 -4.72,-5.27 -8.60,-9.02 -9.60,-7.98 -5.05,-3.57 -6.04,1.57 -2.02,2.07 -3.13,11.79 -0.10,7.85 -0.10,-0.79z"/><path transform="translate(178.20 401.72)" d="M7.97,-2.65 4.38,-3.17 5.23,-9.20 -0.10,-9.20 -0.10,-2.81 4.59,1.74zM-0.10,-0.79 -0.10,7.85 2.82,4.05 9.70,10.72 10.70,9.68 3.23,2.44z"/>
<path transform="translate(213.00 401.72)" d="M4.59,1.74 7.97,-2.65 4.38,-3.17 5.23,-9.20 -3.97,-9.20 -4.39,-6.97zM3.23,2.44 -4.72,-5.27 -4.72,-5.27 -8.60,-9.02 -9.60,-7.98 -5.05,-3.57 -6.04,1.57 -2.02,2.07 -3.13,11.79 2.82,4.05 9.70,10.72 10.70,9.68z"/>
<path transform="translate(247.80 401.72)" d="M4.59,1.74 7.97,-2.65 4.38,-3.17 5.23,-9.20 -3.97,-9.20 -4.39,-6.97zM3.23,2.44 -4.72,-5.27 -4.72,-5.27 -8.60,-9.02 -9.60,-7.98 -5.05,-3.57 -6.04,1.57 -2.02,2.07 -3.13,11.79 2.82,4.05 9.70,10.72 10.70,9.68z"/>
<path transform="translate(282.60 401.72)" d="M4.59,1.74 7.97,-2.65 4.38,-3.17 5.23,-9.20 -3.97,-9.20 -4.39,-6.97zM3.23,2.44 -4.72,-5.27 -4.72,-5.27 -8.60,-9.02 -9.60,-7.98 -5.05,-3.57 -6.04,1.57 -2.02,2.07 -3.13,11.79 2.82,4.05 9.70,10.72 10.70,9.68z"/>
<path transform="translate(561.00 401.72)" d="M4.59,1.74 7.97,-2.65 4.38,-3.17 5.23,-9.20 -3.97,-9.20 -4.39,-6.97zM3.23,2.44 -4.72,-5.27 -4.72,-5.27 -8.60,-9.02 -9.60,-7.98 -5.05,-3.57 -6.04,1.57 -2.02,2.07 -3.13,11.79 2.82,4.05 9.70,10.72 10.70,9.68z"/>
<path transform="translate(595.80 401.72)" d="M4.59,1.74 7.97,-2.65 4.38,-3.17 5.23,-9.20 -3.97,-9.20 -4.39,-6.97zM3.23,2.44 -4.72,-5.27 -4.72,-5.27 -8.60,-9.02 -9.60,-7.98 -5.05,-3.57 -6.04,1.57 -2.02,2.07 -3.13,11.79 2.82,4.05 9.70,10.72 10.70,9.68z"/>
<path transform="translate(630.60 401.72)" d="M4.59,1.74 7.97,-2.65 4.38,-3.17 5.23,-9.20 -3.97,-9.20 -4.39,-6.97zM3.23,2.44 -4.72,-5.27 -4.72,-5.27 -8.60,-9.02 -9.60,-7.98 -5.05,-3.57 -6.04,1.57 -2.02,2.07 -3.13,11.79 2.82,4.05 9.70,10.72 10.70,9.68z"/>
<path transform="translate(665.40 401.72)" d="M4.59,1.74 7.97,-2.65 4.38,-3.17 5.23,-9.20 -3.97,-9.20 -4.39,-6.97zM3.23,2.44 -4.72,-5.27 -4.72,-5.27 -8.60,-9.02 -9.60,-7.98 -5.05,-3.57 -6.04,1.57 -2.02,2.07 -3.13,11.79 2.82,4.05 9.70,10.72 10.70,9.68z"/>
<path transform="translate(700.20 401.72)" d="M4.59,1.74 7.97,-2.65 4.38,-3.17 5.23,-9.20 -3.97,-9.20 -4.39,-6.97zM3.23,2.44 -4.72,-5.27 -4.72,-5.27 -8.60,-9.02 -9.60,-7.98 -5.05,-3.57 -6.04,1.57 -2.02,2.07 -3.13,11.79 2.82,4.05 9.70,10.72 10.70,9.68z"/>
<path transform="translate(735.00 401.72)" d="M4.59,1.74 7.97,-2.65 4.38,-3.17 5.23,-9.20 -3.97,-9.20 -4.39,-6.97zM3.23,2.44 -4.72,-5.27 -4.72,-5.27 -8.60,-9.02 -9.60,-7.98 -5.05,-3.57 -6.04,1.57 -2.02,2.07 -3.13,11.79 2.82,4.05 9.70,10.72 10.70,9.68z"/>
<path transform="translate(769.80 401.72)" d="M4.59,1.74 7.97,-2.65 4.38,-3.17 5.23,-9.20 -3.97,-9.20 -4.39,-6.97zM3.23,2.44 -4.72,-5.27 -4.72,-5.27 -8.60,-9.02 -9.60,-7.98 -5.05,-3.57 -6.04,1.57 -2.02,2.07 -3.13,11.79 2.82,4.05 9.70,10.72 10.70,9.68z"/>
<path transform="translate(909.00 401.72)" fill="#f0c53e" d="M-3.97,-9.20 -4.39,-6.97 -0.10,-2.81 -0.10,-9.20zM-4.72,-5.27 -4.72,-5.27 -8.60,-9.02 -9.60,-7.98 -5.05,-3.57 -6.04,1.57 -2.02,2.07 -3.13,11.79 -0.10,7.85 -0.10,-0.79z"/><path transform="translate(909.00 401.72)" d="M7.97,-2.65 4.38,-3.17 5.23,-9.20 -0.10,-9.20 -0.10,-2.81 4.59,1.74zM-0.10,-0.79 -0.10,7.85 2.82,4.05 9.70,10.72 10.70,9.68 3.23,2.44z"/>
<path transform="translate(943.80 401.72)" d="M4.59,1.74 7.97,-2.65 4.38,-3.17 5.23,-9.20 -3.97,-9.20 -4.39,-6.97zM3.23,2.44 -4.72,-5.27 -4.72,-5.27 -8.60,-9.02 -9.60,-7.98 -5.05,-3.57 -6.04,1.57 -2.02,2.07 -3.13,11.79 2.82,4.05 9.70,10.72 10.70,9.68z"/>
<path transform="translate(978.60 401.72)" d="M4.59,1.74 7.97,-2.65 4.38,-3.17 5.23,-9.20 -3.97,-9.20 -4.39,-6.97zM3.23,2.44 -4.72,-5.27 -4.72,-5.27 -8.60,-9.02 -9.60,-7.98 -5.05,-3.57 -6.04,1.57 -2.02,2.07 -3.13,11.79 2.82,4.05 9.70,10.72 10.70,9.68z"/>
<path transform="translate(178.20 445.76)" fill="#f0c53e" d="M-3.97,-9.20 -4.39,-6.97 -0.10,-2.81 -0.10,-9.20zM-4.72,-5.27 -4.72,-5.27 -8.60,-9.02 -9.60,-7.98 -5.05,-3.57 -6.04,1.57 -2.02,2.07 -3.13,11.79 -0.10,7.85 -0.10,-0.79z"/><path transform="translate(178.20 445.76)" d="M7.97,-2.65 4.38,-3.17 5.23,-9.20 -0.10,-9.20 -0.10,-2.81 4.59,1.74zM-0.10,-0.79 -0.10,7.85 2.82,4.05 9.70,10.72 10.70,9.68 3.23,2.44z"/>
<path transform="translate(213.00 445.76)" d="M4.59,1.74 7.97,-2.65 4.38,-3.17 5.23,-9.20 -3.97,-9.20 -4.39,-6.97zM3.23,2.44 -4.72,-5.27 -4.72,-5.27 -8.60,-9.02 -9.60,-7.98 -5.05,-3.57 -6.04,1.57 -2.02,2.07 -3.13,11.79 2.82,4.05 9.70,10.72 10.70,9.68z"/>
<path transform="translate(247.80 445.76)" d="M4.59,1.74 7.97,-2.65 4.38,-3.17 5.23,-9.20 -3.97,-9.20 -4.39,-6.97zM3.23,2.44 -4.72,-5.27 -4.72,-5.27 -8.60,-9.02 -9.60,-7.98 -5.05,-3.57 -6.04,1.57 -2.02,2.07 -3.13,11.79 2.82,4.05 9.70,10.72 10.70,9.68z"/>
<path transform="translate(282.60 445.76)" d="M4.59,1.74 7.97,-2.65 4.38,-3.17 5.23,-9.20 -3.97,-9.20 -4.39,-6.97zM3.23,2.44 -4.72,-5.27 -4.72,-5.27 -8.60,-9.02 -9.60,-7.98 -5.05,-3.57 -6.04,1.57 -2.02,2.07 -3.13,11.79 2.82,4.05 9.70,10.72 10.70,9.68z"/>
<path transform="translate(387.00 445.76)" d="M4.59,1.74 7.97,-2.65 4.38,-3.17 5.23,-9.20 -3.97,-9.20 -4.39,-6.97zM3.23,2.44 -4.72,-5.27 -4.72,-5.27 -8.60,-9.02 -9.60,-7.98 -5.05,-3.57 -6.04,1.57 -2.02,2.07 -3.13,11.79 2.82,4.05 9.70,10.72 10.70,9.68z"/>
<path transform="translate(421.80 445.76)" d="M-3.97,-9.20 -4.39,-6.97 -0.10,-2.81 -0.10,-9.20zM-4.72,-5.27 -4.72,-5.27 -8.60,-9.02 -9.60,-7.98 -5.05,-3.57 -6.04,1.57 -2.02,2.07 -3.13,11.79 -0.10,7.85 -0.10,-0.79z"/><path transform="translate(421.80 445.76)" fill="#f0c53e" d="M7.97,-2.65 4.38,-3.17 5.23,-9.20 -0.10,-9.20 -0.10,-2.81 4.59,1.74zM-0.10,-0.79 -0.10,7.85 2.82,4.05 9.70,10.72 10.70,9.68 3.23,2.44z"/>
<path transform="translate(561.00 445.76)" d="M4.59,1.74 7.97,-2.65 4.38,-3.17 5.23,-9.20 -3.97,-9.20 -4.39,-6.97zM3.23,2.44 -4.72,-5.27 -4.72,-5.27 -8.60,-9.02 -9.60,-7.98 -5.05,-3.57 -6.04,1.57 -2.02,2.07 -3.13,11.79 2.82,4.05 9.70,10.72 10.70,9.68z"/>
<path transform="translate(595.80 445.76)" d="M4.59,1.74 7.97,-2.65 4.38,-3.17 5.23,-9.20 -3.97,-9.20 -4.39,-6.97zM3.23,2.44 -4.72,-5.27 -4.72,-5.27 -8.60,-9.02 -9.60,-7.98 -5.05,-3.57 -6.04,1.57 -2.02,2.07 -3.13,11.79 2.82,4.05 9.70,10.72 10.70,9.68z"/>
<path transform="translate(630.60 445.76)" d="M4.59,1.74 7.97,-2.65 4.38,-3.17 5.23,-9.20 -3.97,-9.20 -4.39,-6.97zM3.23,2.44 -4.72,-5.27 -4.72,-5.27 -8.60,-9.02 -9.60,-7.98 -5.05,-3.57 -6.04,1.57 -2.02,2.07 -3.13,11.79 2.82,4.05 9.70,10.72 10.70,9.68z"/>
<path transform="translate(665.40 445.76)" d="M-3.97,-9.20 -4.39,-6.97 -0.10,-2.81 -0.10,-9.20zM-4.72,-5.27 -4.72,-5.27 -8.60,-9.02 -9.60,-7.98 -5.05,-3.57 -6.04,1.57 -2.02,2.07 -3.13,11.79 -0.10,7.85 -0.10,-0.79z"/><path transform="translate(665.40 445.76)" fill="#f0c53e" d="M7.97,-2.65 4.38,-3.17 5.23,-9.20 -0.10,-9.20 -0.10,-2.81 4.59,1.74zM-0.10,-0.79 -0.10,7.85 2.82,4.05 9.70,10.72 10.70,9.68 3.23,2.44z"/>
<path transform="translate(909.00 445.76)" fill="#f0c53e" d="M-3.97,-9.20 -4.39,-6.97 -0.10,-2.81 -0.10,-9.20zM-4.72,-5.27 -4.72,-5.27 -8.60,-9.02 -9.60,-7.98 -5.05,-3.57 -6.04,1.57 -2.02,2.07 -3.13,11.79 -0.10,7.85 -0.10,-0.79z"/><path transform="translate(909.00 445.76)" d="M7.97,-2.65 4.38,-3.17 5.23,-9.20 -0.10,-9.20 -0.10,-2.81 4.59,1.74zM-0.10,-0.79 -0.10,7.85 2.82,4.05 9.70,10.72 10.70,9.68 3.23,2.44z"/>
<path transform="translate(943.80 445.76)" d="M4.59,1.74 7.97,-2.65 4.38,-3.17 5.23,-9.20 -3.97,-9.20 -4.39,-6.97zM3.23,2.44 -4.72,-5.27 -4.72,-5.27 -8.60,-9.02 -9.60,-7.98 -5.05,-3.57 -6.04,1.57 -2.02,2.07 -3.13,11.79 2.82,4.05 9.70,10.72 10.70,9.68z"/>
<path transform="translate(978.60 445.76)" d="M4.59,1.74 7.97,-2.65 4.38,-3.17 5.23,-9.20 -3.97,-9.20 -4.39,-6.97zM3.23,2.44 -4.72,-5.27 -4.72,-5.27 -8.60,-9.02 -9.60,-7.98 -5.05,-3.57 -6.04,1.57 -2.02,2.07 -3.13,11.79 2.82,4.05 9.70,10.72 10.70,9.68z"/>
<path transform="translate(561.00 489.80)" d="M4.59,1.74 7.97,-2.65 4.38,-3.17 5.23,-9.20 -3.97,-9.20 -4.39,-6.97zM3.23,2.44 -4.72,-5.27 -4.72,-5.27 -8.60,-9.02 -9.60,-7.98 -5.05,-3.57 -6.04,1.57 -2.02,2.07 -3.13,11.79 2.82,4.05 9.70,10.72 10.70,9.68z"/>
<path transform="translate(595.80 489.80)" d="M4.59,1.74 7.97,-2.65 4.38,-3.17 5.23,-9.20 -3.97,-9.20 -4.39,-6.97zM3.23,2.44 -4.72,-5.27 -4.72,-5.27 -8.60,-9.02 -9.60,-7.98 -5.05,-3.57 -6.04,1.57 -2.02,2.07 -3.13,11.79 2.82,4.05 9.70,10.72 10.70,9.68z"/>
<path transform="translate(630.60 489.80)" d="M4.59,1.74 7.97,-2.65 4.38,-3.17 5.23,-9.20 -3.97,-9.20 -4.39,-6.97zM3.23,2.44 -4.72,-5.27 -4.72,-5.27 -8.60,-9.02 -9.60,-7.98 -5.05,-3.57 -6.04,1.57 -2.02,2.07 -3.13,11.79 2.82,4.05 9.70,10.72 10.70,9.68z"/>
<path transform="translate(665.40 489.80)" d="M4.59,1.74 7.97,-2.65 4.38,-3.17 5.23,-9.20 -3.97,-9.20 -4.39,-6.97zM3.23,2.44 -4.72,-5.27 -4.72,-5.27 -8.60,-9.02 -9.60,-7.98 -5.05,-3.57 -6.04,1.57 -2.02,2.07 -3.13,11.79 2.82,4.05 9.70,10.72 10.70,9.68z"/>
<path transform="translate(700.20 489.80)" d="M4.59,1.74 7.97,-2.65 4.38,-3.17 5.23,-9.20 -3.97,-9.20 -4.39,-6.97zM3.23,2.44 -4.72,-5.27 -4.72,-5.27 -8.60,-9.02 -9.60,-7.98 -5.05,-3.57 -6.04,1.57 -2.02,2.07 -3.13,11.79 2.82,4.05 9.70,10.72 10.70,9.68z"/>
<path transform="translate(735.00 489.80)" d="M4.59,1.74 7.97,-2.65 4.38,-3.17 5.23,-9.20 -3.97,-9.20 -4.39,-6.97zM3.23,2.44 -4.72,-5.27 -4.72,-5.27 -8.60,-9.02 -9.60,-7.98 -5.05,-3.57 -6.04,1.57 -2.02,2.07 -3.13,11.79 2.82,4.05 9.70,10.72 10.70,9.68z"/>
<path transform="translate(769.80 489.80)" d="M4.59,1.74 7.97,-2.65 4.38,-3.17 5.23,-9.20 -3.97,-9.20 -4.39,-6.97zM3.23,2.44 -4.72,-5.27 -4.72,-5.27 -8.60,-9.02 -9.60,-7.98 -5.05,-3.57 -6.04,1.57 -2.02,2.07 -3.13,11.79 2.82,4.05 9.70,10.72 10.70,9.68z"/>
<path transform="translate(909.00 489.80)" fill="#f0c53e" d="M-3.97,-9.20 -4.39,-6.97 -0.10,-2.81 -0.10,-9.20zM-4.72,-5.27 -4.72,-5.27 -8.60,-9.02 -9.60,-7.98 -5.05,-3.57 -6.04,1.57 -2.02,2.07 -3.13,11.79 -0.10,7.85 -0.10,-0.79z"/><path transform="translate(909.00 489.80)" d="M7.97,-2.65 4.38,-3.17 5.23,-9.20 -0.10,-9.20 -0.10,-2.81 4.59,1.74zM-0.10,-0.79 -0.10,7.85 2.82,4.05 9.70,10.72 10.70,9.68 3.23,2.44z"/>
<path transform="translate(943.80 489.80)" d="M4.59,1.74 7.97,-2.65 4.38,-3.17 5.23,-9.20 -3.97,-9.20 -4.39,-6.97zM3.23,2.44 -4.72,-5.27 -4.72,-5.27 -8.60,-9.02 -9.60,-7.98 -5.05,-3.57 -6.04,1.57 -2.02,2.07 -3.13,11.79 2.82,4.05 9.70,10.72 10.70,9.68z"/>
<path transform="translate(978.60 489.80)" d="M4.59,1.74 7.97,-2.65 4.38,-3.17 5.23,-9.20 -3.97,-9.20 -4.39,-6.97zM3.23,2.44 -4.72,-5.27 -4.72,-5.27 -8.60,-9.02 -9.60,-7.98 -5.05,-3.57 -6.04,1.57 -2.02,2.07 -3.13,11.79 2.82,4.05 9.70,10.72 10.70,9.68z"/>
<path transform="translate(387.00 533.84)" d="M4.59,1.74 7.97,-2.65 4.38,-3.17 5.23,-9.20 -3.97,-9.20 -4.39,-6.97zM3.23,2.44 -4.72,-5.27 -4.72,-5.27 -8.60,-9.02 -9.60,-7.98 -5.05,-3.57 -6.04,1.57 -2.02,2.07 -3.13,11.79 2.82,4.05 9.70,10.72 10.70,9.68z"/>
<path transform="translate(421.80 533.84)" d="M4.59,1.74 7.97,-2.65 4.38,-3.17 5.23,-9.20 -3.97,-9.20 -4.39,-6.97zM3.23,2.44 -4.72,-5.27 -4.72,-5.27 -8.60,-9.02 -9.60,-7.98 -5.05,-3.57 -6.04,1.57 -2.02,2.07 -3.13,11.79 2.82,4.05 9.70,10.72 10.70,9.68z"/>
<path transform="translate(456.60 533.84)" d="M4.59,1.74 7.97,-2.65 4.38,-3.17 5.23,-9.20 -3.97,-9.20 -4.39,-6.97zM3.23,2.44 -4.72,-5.27 -4.72,-5.27 -8.60,-9.02 -9.60,-7.98 -5.05,-3.57 -6.04,1.57 -2.02,2.07 -3.13,11.79 2.82,4.05 9.70,10.72 10.70,9.68z"/>
<path transform="translate(491.40 533.84)" d="M4.59,1.74 7.97,-2.65 4.38,-3.17 5.23,-9.20 -3.97,-9.20 -4.39,-6.97zM3.23,2.44 -4.72,-5.27 -4.72,-5.27 -8.60,-9.02 -9.60,-7.98 -5.05,-3.57 -6.04,1.57 -2.02,2.07 -3.13,11.79 2.82,4.05 9.70,10.72 10.70,9.68z"/>
<path transform="translate(526.20 533.84)" d="M4.59,1.74 7.97,-2.65 4.38,-3.17 5.23,-9.20 -3.97,-9.20 -4.39,-6.97zM3.23,2.44 -4.72,-5.27 -4.72,-5.27 -8.60,-9.02 -9.60,-7.98 -5.05,-3.57 -6.04,1.57 -2.02,2.07 -3.13,11.79 2.82,4.05 9.70,10.72 10.70,9.68z"/>
<path transform="translate(700.20 533.84)" d="M4.59,1.74 7.97,-2.65 4.38,-3.17 5.23,-9.20 -3.97,-9.20 -4.39,-6.97zM3.23,2.44 -4.72,-5.27 -4.72,-5.27 -8.60,-9.02 -9.60,-7.98 -5.05,-3.57 -6.04,1.57 -2.02,2.07 -3.13,11.79 2.82,4.05 9.70,10.72 10.70,9.68z"/>
<path transform="translate(735.00 533.84)" d="M4.59,1.74 7.97,-2.65 4.38,-3.17 5.23,-9.20 -3.97,-9.20 -4.39,-6.97zM3.23,2.44 -4.72,-5.27 -4.72,-5.27 -8.60,-9.02 -9.60,-7.98 -5.05,-3.57 -6.04,1.57 -2.02,2.07 -3.13,11.79 2.82,4.05 9.70,10.72 10.70,9.68z"/>
<path transform="translate(769.80 533.84)" d="M4.59,1.74 7.97,-2.65 4.38,-3.17 5.23,-9.20 -3.97,-9.20 -4.39,-6.97zM3.23,2.44 -4.72,-5.27 -4.72,-5.27 -8.60,-9.02 -9.60,-7.98 -5.05,-3.57 -6.04,1.57 -2.02,2.07 -3.13,11.79 2.82,4.05 9.70,10.72 10.70,9.68z"/>
<path transform="translate(804.60 533.84)" d="M4.59,1.74 7.97,-2.65 4.38,-3.17 5.23,-9.20 -3.97,-9.20 -4.39,-6.97zM3.23,2.44 -4.72,-5.27 -4.72,-5.27 -8.60,-9.02 -9.60,-7.98 -5.05,-3.57 -6.04,1.57 -2.02,2.07 -3.13,11.79 2.82,4.05 9.70,10.72 10.70,9.68z"/>
<path transform="translate(839.40 533.84)" d="M4.59,1.74 7.97,-2.65 4.38,-3.17 5.23,-9.20 -3.97,-9.20 -4.39,-6.97zM3.23,2.44 -4.72,-5.27 -4.72,-5.27 -8.60,-9.02 -9.60,-7.98 -5.05,-3.57 -6.04,1.57 -2.02,2.07 -3.13,11.79 2.82,4.05 9.70,10.72 10.70,9.68z"/>
<path transform="translate(874.20 533.84)" d="M4.59,1.74 7.97,-2.65 4.38,-3.17 5.23,-9.20 -3.97,-9.20 -4.39,-6.97zM3.23,2.44 -4.72,-5.27 -4.72,-5.27 -8.60,-9.02 -9.60,-7.98 -5.05,-3.57 -6.04,1.57 -2.02,2.07 -3.13,11.79 2.82,4.05 9.70,10.72 10.70,9.68z"/>
<path transform="translate(909.00 533.84)" d="M-3.97,-9.20 -4.39,-6.97 -0.10,-2.81 -0.10,-9.20zM-4.72,-5.27 -4.72,-5.27 -8.60,-9.02 -9.60,-7.98 -5.05,-3.57 -6.04,1.57 -2.02,2.07 -3.13,11.79 -0.10,7.85 -0.10,-0.79z"/><path transform="translate(909.00 533.84)" fill="#f0c53e" d="M7.97,-2.65 4.38,-3.17 5.23,-9.20 -0.10,-9.20 -0.10,-2.81 4.59,1.74zM-0.10,-0.79 -0.10,7.85 2.82,4.05 9.70,10.72 10.70,9.68 3.23,2.44z"/>
<path transform="translate(317.40 577.88)" d="M4.59,1.74 7.97,-2.65 4.38,-3.17 5.23,-9.20 -3.97,-9.20 -4.39,-6.97zM3.23,2.44 -4.72,-5.27 -4.72,-5.27 -8.60,-9.02 -9.60,-7.98 -5.05,-3.57 -6.04,1.57 -2.02,2.07 -3.13,11.79 2.82,4.05 9.70,10.72 10.70,9.68z"/>
<path transform="translate(352.20 577.88)" d="M4.59,1.74 7.97,-2.65 4.38,-3.17 5.23,-9.20 -3.97,-9.20 -4.39,-6.97zM3.23,2.44 -4.72,-5.27 -4.72,-5.27 -8.60,-9.02 -9.60,-7.98 -5.05,-3.57 -6.04,1.57 -2.02,2.07 -3.13,11.79 2.82,4.05 9.70,10.72 10.70,9.68z"/>
<path transform="translate(387.00 577.88)" d="M4.59,1.74 7.97,-2.65 4.38,-3.17 5.23,-9.20 -3.97,-9.20 -4.39,-6.97zM3.23,2.44 -4.72,-5.27 -4.72,-5.27 -8.60,-9.02 -9.60,-7.98 -5.05,-3.57 -6.04,1.57 -2.02,2.07 -3.13,11.79 2.82,4.05 9.70,10.72 10.70,9.68z"/>
<path transform="translate(421.80 577.88)" d="M4.59,1.74 7.97,-2.65 4.38,-3.17 5.23,-9.20 -3.97,-9.20 -4.39,-6.97zM3.23,2.44 -4.72,-5.27 -4.72,-5.27 -8.60,-9.02 -9.60,-7.98 -5.05,-3.57 -6.04,1.57 -2.02,2.07 -3.13,11.79 2.82,4.05 9.70,10.72 10.70,9.68z"/>
<path transform="translate(456.60 577.88)" d="M4.59,1.74 7.97,-2.65 4.38,-3.17 5.23,-9.20 -3.97,-9.20 -4.39,-6.97zM3.23,2.44 -4.72,-5.27 -4.72,-5.27 -8.60,-9.02 -9.60,-7.98 -5.05,-3.57 -6.04,1.57 -2.02,2.07 -3.13,11.79 2.82,4.05 9.70,10.72 10.70,9.68z"/>
<path transform="translate(491.40 577.88)" d="M4.59,1.74 7.97,-2.65 4.38,-3.17 5.23,-9.20 -3.97,-9.20 -4.39,-6.97zM3.23,2.44 -4.72,-5.27 -4.72,-5.27 -8.60,-9.02 -9.60,-7.98 -5.05,-3.57 -6.04,1.57 -2.02,2.07 -3.13,11.79 2.82,4.05 9.70,10.72 10.70,9.68z"/>
<path transform="translate(526.20 577.88)" d="M4.59,1.74 7.97,-2.65 4.38,-3.17 5.23,-9.20 -3.97,-9.20 -4.39,-6.97zM3.23,2.44 -4.72,-5.27 -4.72,-5.27 -8.60,-9.02 -9.60,-7.98 -5.05,-3.57 -6.04,1.57 -2.02,2.07 -3.13,11.79 2.82,4.05 9.70,10.72 10.70,9.68z"/>
<path transform="translate(665.40 577.88)" fill="#f0c53e" d="M-3.97,-9.20 -4.39,-6.97 -0.10,-2.81 -0.10,-9.20zM-4.72,-5.27 -4.72,-5.27 -8.60,-9.02 -9.60,-7.98 -5.05,-3.57 -6.04,1.57 -2.02,2.07 -3.13,11.79 -0.10,7.85 -0.10,-0.79z"/><path transform="translate(665.40 577.88)" d="M7.97,-2.65 4.38,-3.17 5.23,-9.20 -0.10,-9.20 -0.10,-2.81 4.59,1.74zM-0.10,-0.79 -0.10,7.85 2.82,4.05 9.70,10.72 10.70,9.68 3.23,2.44z"/>
<path transform="translate(700.20 577.88)" d="M4.59,1.74 7.97,-2.65 4.38,-3.17 5.23,-9.20 -3.97,-9.20 -4.39,-6.97zM3.23,2.44 -4.72,-5.27 -4.72,-5.27 -8.60,-9.02 -9.60,-7.98 -5.05,-3.57 -6.04,1.57 -2.02,2.07 -3.13,11.79 2.82,4.05 9.70,10.72 10.70,9.68z"/>
<path transform="translate(735.00 577.88)" d="M4.59,1.74 7.97,-2.65 4.38,-3.17 5.23,-9.20 -3.97,-9.20 -4.39,-6.97zM3.23,2.44 -4.72,-5.27 -4.72,-5.27 -8.60,-9.02 -9.60,-7.98 -5.05,-3.57 -6.04,1.57 -2.02,2.07 -3.13,11.79 2.82,4.05 9.70,10.72 10.70,9.68z"/>
<path transform="translate(769.80 577.88)" d="M4.59,1.74 7.97,-2.65 4.38,-3.17 5.23,-9.20 -3.97,-9.20 -4.39,-6.97zM3.23,2.44 -4.72,-5.27 -4.72,-5.27 -8.60,-9.02 -9.60,-7.98 -5.05,-3.57 -6.04,1.57 -2.02,2.07 -3.13,11.79 2.82,4.05 9.70,10.72 10.70,9.68z"/>
<path transform="translate(317.40 621.92)" d="M4.59,1.74 7.97,-2.65 4.38,-3.17 5.23,-9.20 -3.97,-9.20 -4.39,-6.97zM3.23,2.44 -4.72,-5.27 -4.72,-5.27 -8.60,-9.02 -9.60,-7.98 -5.05,-3.57 -6.04,1.57 -2.02,2.07 -3.13,11.79 2.82,4.05 9.70,10.72 10.70,9.68z"/>
<path transform="translate(352.20 621.92)" d="M4.59,1.74 7.97,-2.65 4.38,-3.17 5.23,-9.20 -3.97,-9.20 -4.39,-6.97zM3.23,2.44 -4.72,-5.27 -4.72,-5.27 -8.60,-9.02 -9.60,-7.98 -5.05,-3.57 -6.04,1.57 -2.02,2.07 -3.13,11.79 2.82,4.05 9.70,10.72 10.70,9.68z"/>
<path transform="translate(387.00 621.92)" d="M4.59,1.74 7.97,-2.65 4.38,-3.17 5.23,-9.20 -3.97,-9.20 -4.39,-6.97zM3.23,2.44 -4.72,-5.27 -4.72,-5.27 -8.60,-9.02 -9.60,-7.98 -5.05,-3.57 -6.04,1.57 -2.02,2.07 -3.13,11.79 2.82,4.05 9.70,10.72 10.70,9.68z"/>
<path transform="translate(421.80 621.92)" d="M4.59,1.74 7.97,-2.65 4.38,-3.17 5.23,-9.20 -3.97,-9.20 -4.39,-6.97zM3.23,2.44 -4.72,-5.27 -4.72,-5.27 -8.60,-9.02 -9.60,-7.98 -5.05,-3.57 -6.04,1.57 -2.02,2.07 -3.13,11.79 2.82,4.05 9.70,10.72 10.70,9.68z"/>
<path transform="translate(456.60 621.92)" d="M4.59,1.74 7.97,-2.65 4.38,-3.17 5.23,-9.20 -3.97,-9.20 -4.39,-6.97zM3.23,2.44 -4.72,-5.27 -4.72,-5.27 -8.60,-9.02 -9.60,-7.98 -5.05,-3.57 -6.04,1.57 -2.02,2.07 -3.13,11.79 2.82,4.05 9.70,10.72 10.70,9.68z"/>
<path transform="translate(491.40 621.92)" d="M4.59,1.74 7.97,-2.65 4.38,-3.17 5.23,-9.20 -3.97,-9.20 -4.39,-6.97zM3.23,2.44 -4.72,-5.27 -4.72,-5.27 -8.60,-9.02 -9.60,-7.98 -5.05,-3.57 -6.04,1.57 -2.02,2.07 -3.13,11.79 2.82,4.05 9.70,10.72 10.70,9.68z"/>
<path transform="translate(526.20 621.92)" d="M4.59,1.74 7.97,-2.65 4.38,-3.17 5.23,-9.20 -3.97,-9.20 -4.39,-6.97zM3.23,2.44 -4.72,-5.27 -4.72,-5.27 -8.60,-9.02 -9.60,-7.98 -5.05,-3.57 -6.04,1.57 -2.02,2.07 -3.13,11.79 2.82,4.05 9.70,10.72 10.70,9.68z"/>
<path transform="translate(665.40 621.92)" fill="#f0c53e" d="M-3.97,-9.20 -4.39,-6.97 -0.10,-2.81 -0.10,-9.20zM-4.72,-5.27 -4.72,-5.27 -8.60,-9.02 -9.60,-7.98 -5.05,-3.57 -6.04,1.57 -2.02,2.07 -3.13,11.79 -0.10,7.85 -0.10,-0.79z"/><path transform="translate(665.40 621.92)" d="M7.97,-2.65 4.38,-3.17 5.23,-9.20 -0.10,-9.20 -0.10,-2.81 4.59,1.74zM-0.10,-0.79 -0.10,7.85 2.82,4.05 9.70,10.72 10.70,9.68 3.23,2.44z"/>
<path transform="translate(700.20 621.92)" d="M4.59,1.74 7.97,-2.65 4.38,-3.17 5.23,-9.20 -3.97,-9.20 -4.39,-6.97zM3.23,2.44 -4.72,-5.27 -4.72,-5.27 -8.60,-9.02 -9.60,-7.98 -5.05,-3.57 -6.04,1.57 -2.02,2.07 -3.13,11.79 2.82,4.05 9.70,10.72 10.70,9.68z"/>
<path transform="translate(735.00 621.92)" d="M4.59,1.74 7.97,-2.65 4.38,-3.17 5.23,-9.20 -3.97,-9.20 -4.39,-6.97zM3.23,2.44 -4.72,-5.27 -4.72,-5.27 -8.60,-9.02 -9.60,-7.98 -5.05,-3.57 -6.04,1.57 -2.02,2.07 -3.13,11.79 2.82,4.05 9.70,10.72 10.70,9.68z"/>
<path transform="translate(769.80 621.92)" d="M4.59,1.74 7.97,-2.65 4.38,-3.17 5.23,-9.20 -3.97,-9.20 -4.39,-6.97zM3.23,2.44 -4.72,-5.27 -4.72,-5.27 -8.60,-9.02 -9.60,-7.98 -5.05,-3.57 -6.04,1.57 -2.02,2.07 -3.13,11.79 2.82,4.05 9.70,10.72 10.70,9.68z"/>
<path transform="translate(804.60 621.92)" d="M4.59,1.74 7.97,-2.65 4.38,-3.17 5.23,-9.20 -3.97,-9.20 -4.39,-6.97zM3.23,2.44 -4.72,-5.27 -4.72,-5.27 -8.60,-9.02 -9.60,-7.98 -5.05,-3.57 -6.04,1.57 -2.02,2.07 -3.13,11.79 2.82,4.05 9.70,10.72 10.70,9.68z"/>
<path transform="translate(839.40 621.92)" d="M4.59,1.74 7.97,-2.65 4.38,-3.17 5.23,-9.20 -3.97,-9.20 -4.39,-6.97zM3.23,2.44 -4.72,-5.27 -4.72,-5.27 -8.60,-9.02 -9.60,-7.98 -5.05,-3.57 -6.04,1.57 -2.02,2.07 -3.13,11.79 2.82,4.05 9.70,10.72 10.70,9.68z"/>
<path transform="translate(874.20 621.92)" d="M4.59,1.74 7.97,-2.65 4.38,-3.17 5.23,-9.20 -3.97,-9.20 -4.39,-6.97zM3.23,2.44 -4.72,-5.27 -4.72,-5.27 -8.60,-9.02 -9.60,-7.98 -5.05,-3.57 -6.04,1.57 -2.02,2.07 -3.13,11.79 2.82,4.05 9.70,10.72 10.70,9.68z"/>
<path transform="translate(909.00 621.92)" d="M-3.97,-9.20 -4.39,-6.97 -0.10,-2.81 -0.10,-9.20zM-4.72,-5.27 -4.72,-5.27 -8.60,-9.02 -9.60,-7.98 -5.05,-3.57 -6.04,1.57 -2.02,2.07 -3.13,11.79 -0.10,7.85 -0.10,-0.79z"/><path transform="translate(909.00 621.92)" fill="#f0c53e" d="M7.97,-2.65 4.38,-3.17 5.23,-9.20 -0.10,-9.20 -0.10,-2.81 4.59,1.74zM-0.10,-0.79 -0.10,7.85 2.82,4.05 9.70,10.72 10.70,9.68 3.23,2.44z"/>
<path transform="translate(317.40 665.96)" d="M4.59,1.74 7.97,-2.65 4.38,-3.17 5.23,-9.20 -3.97,-9.20 -4.39,-6.97zM3.23,2.44 -4.72,-5.27 -4.72,-5.27 -8.60,-9.02 -9.60,-7.98 -5.05,-3.57 -6.04,1.57 -2.02,2.07 -3.13,11.79 2.82,4.05 9.70,10.72 10.70,9.68z"/>
<path transform="translate(352.20 665.96)" d="M4.59,1.74 7.97,-2.65 4.38,-3.17 5.23,-9.20 -3.97,-9.20 -4.39,-6.97zM3.23,2.44 -4.72,-5.27 -4.72,-5.27 -8.60,-9.02 -9.60,-7.98 -5.05,-3.57 -6.04,1.57 -2.02,2.07 -3.13,11.79 2.82,4.05 9.70,10.72 10.70,9.68z"/>
<path transform="translate(387.00 665.96)" d="M4.59,1.74 7.97,-2.65 4.38,-3.17 5.23,-9.20 -3.97,-9.20 -4.39,-6.97zM3.23,2.44 -4.72,-5.27 -4.72,-5.27 -8.60,-9.02 -9.60,-7.98 -5.05,-3.57 -6.04,1.57 -2.02,2.07 -3.13,11.79 2.82,4.05 9.70,10.72 10.70,9.68z"/>
<path transform="translate(421.80 665.96)" d="M-3.97,-9.20 -4.39,-6.97 -0.10,-2.81 -0.10,-9.20zM-4.72,-5.27 -4.72,-5.27 -8.60,-9.02 -9.60,-7.98 -5.05,-3.57 -6.04,1.57 -2.02,2.07 -3.13,11.79 -0.10,7.85 -0.10,-0.79z"/><path transform="translate(421.80 665.96)" fill="#f0c53e" d="M7.97,-2.65 4.38,-3.17 5.23,-9.20 -0.10,-9.20 -0.10,-2.81 4.59,1.74zM-0.10,-0.79 -0.10,7.85 2.82,4.05 9.70,10.72 10.70,9.68 3.23,2.44z"/>
<path transform="translate(665.40 665.96)" fill="#f0c53e" d="M-3.97,-9.20 -4.39,-6.97 -0.10,-2.81 -0.10,-9.20zM-4.72,-5.27 -4.72,-5.27 -8.60,-9.02 -9.60,-7.98 -5.05,-3.57 -6.04,1.57 -2.02,2.07 -3.13,11.79 -0.10,7.85 -0.10,-0.79z"/><path transform="translate(665.40 665.96)" d="M7.97,-2.65 4.38,-3.17 5.23,-9.20 -0.10,-9.20 -0.10,-2.81 4.59,1.74zM-0.10,-0.79 -0.10,7.85 2.82,4.05 9.70,10.72 10.70,9.68 3.23,2.44z"/>
<path transform="translate(700.20 665.96)" d="M4.59,1.74 7.97,-2.65 4.38,-3.17 5.23,-9.20 -3.97,-9.20 -4.39,-6.97zM3.23,2.44 -4.72,-5.27 -4.72,-5.27 -8.60,-9.02 -9.60,-7.98 -5.05,-3.57 -6.04,1.57 -2.02,2.07 -3.13,11.79 2.82,4.05 9.70,10.72 10.70,9.68z"/>
<path transform="translate(735.00 665.96)" d="M4.59,1.74 7.97,-2.65 4.38,-3.17 5.23,-9.20 -3.97,-9.20 -4.39,-6.97zM3.23,2.44 -4.72,-5.27 -4.72,-5.27 -8.60,-9.02 -9.60,-7.98 -5.05,-3.57 -6.04,1.57 -2.02,2.07 -3.13,11.79 2.82,4.05 9.70,10.72 10.70,9.68z"/>
<path transform="translate(769.80 665.96)" d="M4.59,1.74 7.97,-2.65 4.38,-3.17 5.23,-9.20 -3.97,-9.20 -4.39,-6.97zM3.23,2.44 -4.72,-5.27 -4.72,-5.27 -8.60,-9.02 -9.60,-7.98 -5.05,-3.57 -6.04,1.57 -2.02,2.07 -3.13,11.79 2.82,4.05 9.70,10.72 10.70,9.68z"/>
<path transform="translate(804.60 665.96)" d="M4.59,1.74 7.97,-2.65 4.38,-3.17 5.23,-9.20 -3.97,-9.20 -4.39,-6.97zM3.23,2.44 -4.72,-5.27 -4.72,-5.27 -8.60,-9.02 -9.60,-7.98 -5.05,-3.57 -6.04,1.57 -2.02,2.07 -3.13,11.79 2.82,4.05 9.70,10.72 10.70,9.68z"/>
<path transform="translate(839.40 665.96)" d="M4.59,1.74 7.97,-2.65 4.38,-3.17 5.23,-9.20 -3.97,-9.20 -4.39,-6.97zM3.23,2.44 -4.72,-5.27 -4.72,-5.27 -8.60,-9.02 -9.60,-7.98 -5.05,-3.57 -6.04,1.57 -2.02,2.07 -3.13,11.79 2.82,4.05 9.70,10.72 10.70,9.68z"/>
<path transform="translate(874.20 665.96)" d="M4.59,1.74 7.97,-2.65 4.38,-3.17 5.23,-9.20 -3.97,-9.20 -4.39,-6.97zM3.23,2.44 -4.72,-5.27 -4.72,-5.27 -8.60,-9.02 -9.60,-7.98 -5.05,-3.57 -6.04,1.57 -2.02,2.07 -3.13,11.79 2.82,4.05 9.70,10.72 10.70,9.68z"/>
<path transform="translate(909.00 665.96)" d="M-3.97,-9.20 -4.39,-6.97 -0.10,-2.81 -0.10,-9.20zM-4.72,-5.27 -4.72,-5.27 -8.60,-9.02 -9.60,-7.98 -5.05,-3.57 -6.04,1.57 -2.02,2.07 -3.13,11.79 -0.10,7.85 -0.10,-0.79z"/><path transform="translate(909.00 665.96)" fill="#f0c53e" d="M7.97,-2.65 4.38,-3.17 5.23,-9.20 -0.10,-9.20 -0.10,-2.81 4.59,1.74zM-0.10,-0.79 -0.10,7.85 2.82,4.05 9.70,10.72 10.70,9.68 3.23,2.44z"/></g>
</svg>
<div class="t ch" style="left:123.6px;top:104.7px">Час</div>
<div class="t ch" style="left:40.8px;top:136.5px">Черга</div>
<div class="t hd" style="left:160.40px">00-01</div>
<div class="t hd" style="left:195.20px">01-02</div>
<div class="t hd" style="left:230.00px">02-03</div>
<div class="t hd" style="left:264.80px">03-04</div>
<div class="t hd" style="left:299.60px">04-05</div>
<div class="t hd" style="left:334.40px">05-06</div>
<div class="t hd" style="left:369.20px">06-07</div>
<div class="t hd" style="left:404.00px">07-08</div>
<div class="t hd" style="left:438.80px">08-09</div>
<div class="t hd" style="left:473.60px">09-10</div>
<div class="t hd" style="left:508.40px">10-11</div>
<div class="t hd" style="left:543.20px">11-12</div>
<div class="t hd" style="left:578.00px">12-13</div>
<div class="t hd" style="left:612.80px">13-14</div>
<div class="t hd" style="left:647.60px">14-15</div>
<div class="t hd" style="left:682.40px">15-16</div>
<div class="t hd" style="left:717.20px">16-17</div>
<div class="t hd" style="left:752.00px">17-18</div>
<div class="t hd" style="left:786.80px">18-19</div>
<div class="t hd" style="left:821.60px">19-20</div>
<div class="t hd" style="left:856.40px">20-21</div>
<div class="t hd" style="left:891.20px">21-22</div>
<div class="t hd" style="left:926.00px">22-23</div>
<div class="t hd" style="left:960.80px">23-24</div>
<div class="t rl" style="top:174.72px">Черга 1.1</div>
<div class="t rl" style="top:218.76px">Черга 1.2</div>
<div class="t rl" style="top:262.80px">Черга 2.1</div>
<div class="t rl" style="top:306.84px">Черга 2.2</div>
<div class="t rl" style="top:350.88px">Черга 3.1</div>
<div class="t rl" style="top:394.92px">Черга 3.2</div>
<div class="t rl" style="top:438.96px">Черга 4.1</div>
<div class="t rl" style="top:483.00px">Черга 4.2</div>
<div class="t rl" style="top:527.04px">Черга 5.1</div>
<div class="t rl" style="top:571.08px">Черга 5.2</div>
<div class="t rl" style="top:615.12px">Черга 6.1</div>
<div class="t rl" style="top:659.16px">Черга 6.2</div>
<svg class="ov" width="1024" height="695" viewBox="0 0 1024 695">
<g opacity="0.13" fill="none" stroke="#101018">
<circle cx="319.4" cy="402.7" r="25" stroke-width="6"/>
<path d="M313.0,374.9A28.5,28.5 0 0 1 347.6,398.7" stroke-width="13"/>
<path d="M348.3,405.2A29,29 0 0 1 341.6,421.3" stroke-width="5"/>
<circle cx="402.2" cy="387.4" r="24" stroke-width="6.5"/>
<path d="M373.2,388.4A29,29 0 0 1 396.2,359.0" stroke-width="16"/>
<path d="M428.8,382.7A27,27 0 0 1 426.7,398.8" stroke-width="5"/>
<circle cx="344.5" cy="371" r="3.2" stroke-width="2.8"/>
<circle cx="350" cy="365.5" r="3.2" stroke-width="2.8"/>
<circle cx="357" cy="363.5" r="3.2" stroke-width="2.8"/>
<circle cx="364" cy="366" r="3.2" stroke-width="2.8"/>
</g>
<g opacity="0.115" fill="#101018" stroke="#101018" font-family="'Liberation Sans',sans-serif" font-weight="700">
<text transform="translate(433.2 397.9) scale(1 1.1)" font-size="49" stroke-width="3.2" textLength="127.6" lengthAdjust="spacingAndGlyphs">DNIPRO</text>
<text transform="translate(432.8 428.7) scale(1 1.1)" font-size="32.2" stroke-width="2.4" textLength="128.6" lengthAdjust="spacingAndGlyphs">OPERATIVE</text>
</g>
<text x="292" y="451" opacity="0.11" fill="#101018" font-family="'Liberation Serif',serif" font-size="18.5" textLength="257" lengthAdjust="spacing">t.me/dnipro_operative</text>
</svg>
</body></html>
